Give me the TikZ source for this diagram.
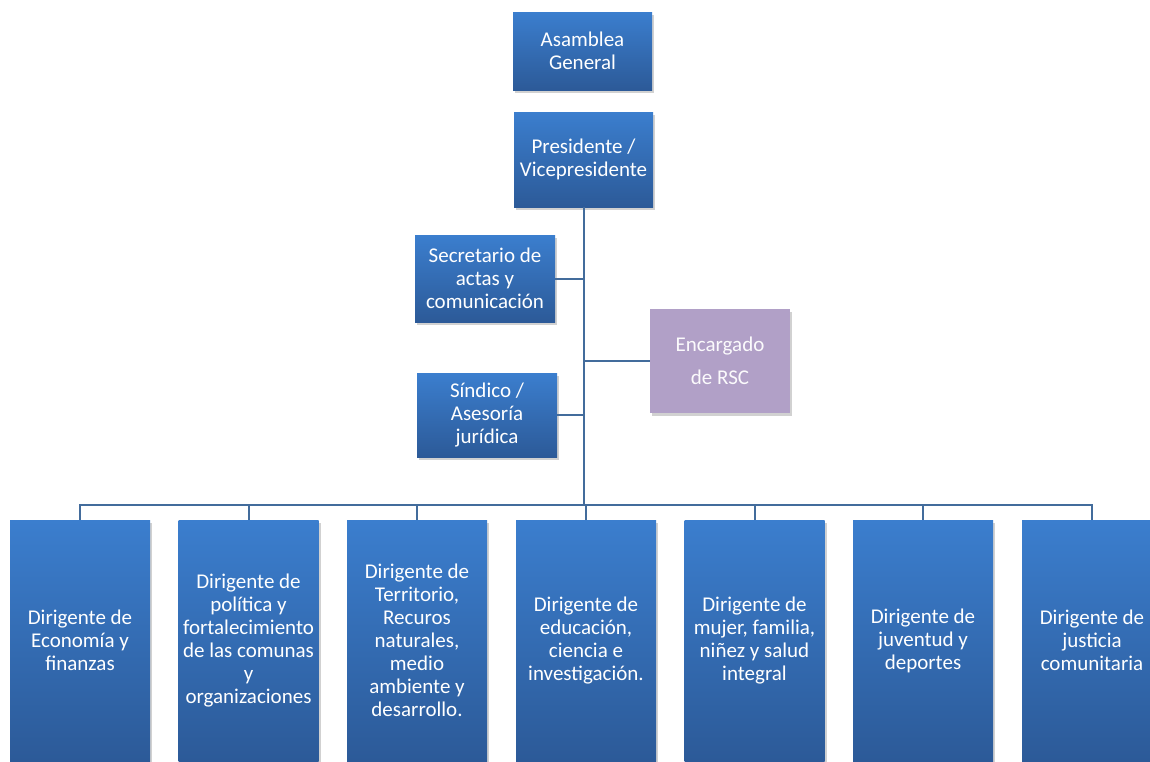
\documentclass[tikz,border=0pt]{standalone}
\usepackage{fontspec}
\setmainfont{Carlito}
\usetikzlibrary{shadows}
\definecolor{btop}{RGB}{59,126,206}
\definecolor{bbot}{RGB}{44,90,152}
\definecolor{lilac}{RGB}{177,160,199}
\definecolor{conn}{RGB}{67,108,156}
\tikzset{
  box/.style={rectangle, top color=btop, bottom color=bbot, draw=none, text=white,
    align=center, inner sep=2pt, font=\fontsize{21}{23}\selectfont,
    drop shadow={shadow xshift=2pt, shadow yshift=-3pt, opacity=0.18, fill=black}},
  rsc/.style={rectangle, fill=lilac, draw=none, text=white!95!lilac,
    align=center, inner sep=2pt, font=\fontsize{21}{33}\selectfont,
    drop shadow={shadow xshift=2pt, shadow yshift=-3pt, opacity=0.18, fill=black}},
  link/.style={draw=conn, line width=2pt}
}
\begin{document}
\begin{tikzpicture}[x=1pt,y=-1pt]
\clip (0,0) rectangle (1150,761);
\fill[white] (0,0) rectangle (1150,761);

\node[box, minimum width=139pt, minimum height=78pt] (A) at (582.5,51) {Asamblea\\General};
\node[box, minimum width=139pt, minimum height=95pt] (P) at (583.5,159.5) {Presidente /\\Vicepresidente};
\node[box, minimum width=140pt, minimum height=87pt] (S) at (485,278.5) {Secretario de\\actas y\\comunicación};
\node[rsc, minimum width=140pt, minimum height=104pt] (E) at (720,361) {Encargado\\de RSC};
\node[box, minimum width=140pt, minimum height=84pt] (D) at (487,415) {Síndico /\\Asesoría\\jurídica};

\coordinate (bus) at (583.5,505);

\node[box, minimum width=140pt, minimum height=241pt] (B1) at (80,640.5) {Dirigente de\\Economía y\\finanzas};
\node[box, minimum width=140pt, minimum height=241pt] (B2) at (248.5,640.5) {Dirigente de\\política y\\fortalecimiento\\de las comunas\\y\\organizaciones};
\node[box, minimum width=140pt, minimum height=241pt] (B3) at (417,640.5) {Dirigente de\\Territorio,\\Recuros\\naturales,\\medio\\ambiente y\\desarrollo.};
\node[box, minimum width=140pt, minimum height=241pt] (B4) at (586,640.5) {Dirigente de\\educación,\\ciencia e\\investigación.};
\node[box, minimum width=140pt, minimum height=241pt] (B5) at (754.5,640.5) {Dirigente de\\mujer, familia,\\niñez y salud\\integral};
\node[box, minimum width=140pt, minimum height=241pt] (B6) at (923,640.5) {Dirigente de\\juventud y\\deportes};
\node[box, minimum width=140pt, minimum height=241pt] (B7) at (1092,640.5) {Dirigente de\\justicia\\comunitaria};

\draw[link] (P.south) -- (bus);
\draw[link] (S.east) -- (S.east -| P.south);
\draw[link] (D.east) -- (D.east -| P.south);
\draw[link] (E.west) -- (E.west -| P.south);
\foreach \b in {B1,B2,B3,B4,B5,B6,B7}{
  \draw[link] (bus) -| (\b.north);
}
\end{tikzpicture}
\end{document}
